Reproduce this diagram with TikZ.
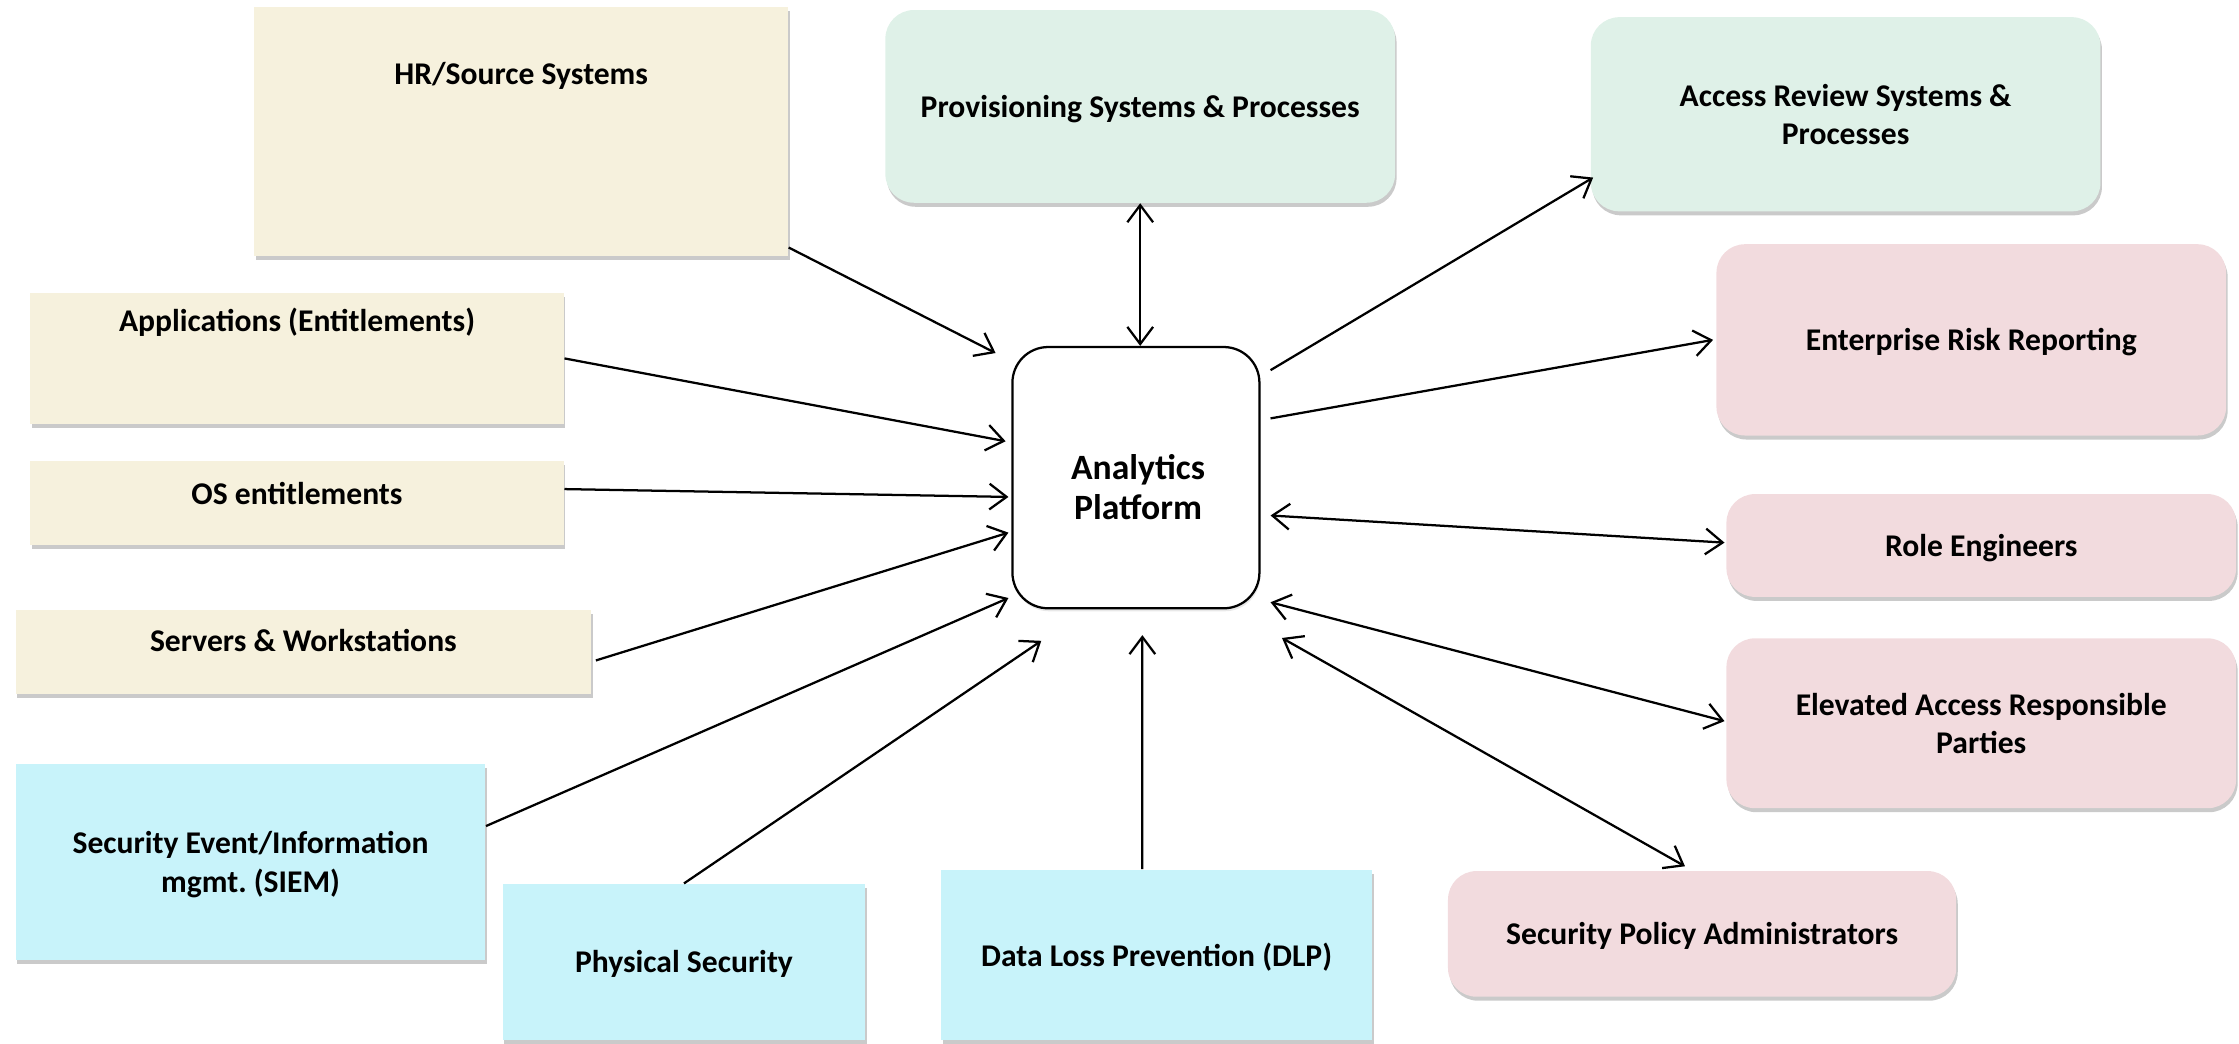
\documentclass[tikz,border=0pt]{standalone}
\usepackage{fontspec}
\setmainfont{Carlito}
\usepackage{tikz}
\usetikzlibrary{calc,positioning,shadows,arrows.meta}

\definecolor{beige}{RGB}{246,241,221}
\definecolor{mint}{RGB}{223,241,232}
\definecolor{rose}{RGB}{242,219,222}
\definecolor{aqua}{RGB}{200,243,250}

\begin{document}
\begin{tikzpicture}[x=0.02cm, y=-0.02cm,
	font=\bfseries\fontsize{12.6}{15.4}\selectfont,
	box/.style={inner sep=0pt, align=center, text depth=0pt,
		drop shadow={shadow xshift=0.6pt, shadow yshift=-1.6pt, opacity=0.35, fill=black!60}},
	srcbox/.style={box, fill=beige},
	evtbox/.style={box, fill=aqua},
	procbox/.style={box, fill=mint, rounded corners=0.4cm},
	userbox/.style={box, fill=rose, rounded corners=0.4cm},
	txt/.style={inner sep=0pt, align=center},
	link/.style={line width=0.9pt, -{Straight Barb[length=2.4mm, width=3.6mm]}},
	both/.style={link, {Straight Barb[length=2.4mm, width=3.6mm]}-{Straight Barb[length=2.4mm, width=3.6mm]}}]
	\useasboundingbox (0,0) rectangle (1568,731);
	% the platform in the middle
	\node[draw, line width=0.9pt, fill=white, rounded corners=0.5cm, minimum width=3.46cm,
		minimum height=3.66cm, inner sep=0pt,
		drop shadow={shadow xshift=0.4pt, shadow yshift=-1.2pt, opacity=0.15, fill=black!60}] (ap) at (795.5,334.5) {};
	\node[txt, text depth=0pt, font=\bfseries\fontsize{14.2}{16}\selectfont] (aptxt) at (797,341) {Analytics\\Platform};
	% data sources, left
	\node[srcbox, minimum width=7.48cm, minimum height=3.48cm] (hr) at (365,92) {};
	\node[txt] (hrtxt) at (365,53) {HR/Source Systems};
	\node[srcbox, minimum width=7.48cm, minimum height=1.84cm] (apps) at (208,251) {};
	\node[txt] (appstxt) at (208,226) {Applications (Entitlements)};
	\node[srcbox, minimum width=7.48cm, minimum height=1.18cm] (os) at (208,352.5) {};
	\node[txt] (ostxt) at (208,345.5) {OS entitlements};
	\node[srcbox, minimum width=8.06cm, minimum height=1.18cm] (srv) at (212.5,456.5) {};
	\node[txt] (srvtxt) at (212.5,448.5) {Servers \& Workstations};
	% event feeds, bottom
	\node[evtbox, minimum width=6.58cm, minimum height=2.74cm] (siem) at (175.5,603.5) {Security Event/Information\\mgmt.\ (SIEM)};
	\node[evtbox, minimum width=5.08cm, minimum height=2.18cm] (phys) at (479,673.5) {Physical Security};
	\node[evtbox, minimum width=6.04cm, minimum height=2.38cm] (dlp) at (810,668.5) {Data Loss Prevention (DLP)};
	% processes, top
	\node[procbox, minimum width=7.14cm, minimum height=2.7cm] (prov) at (798.5,74.5) {Provisioning Systems \& Processes};
	\node[procbox, minimum width=7.14cm, minimum height=2.72cm] (arev) at (1292.5,80) {Access Review Systems \&\\Processes};
	% consumers, right
	\node[userbox, minimum width=7.14cm, minimum height=2.68cm] (err) at (1380.5,238) {Enterprise Risk Reporting};
	\node[userbox, minimum width=7.14cm, minimum height=1.44cm] (role) at (1387.5,382) {Role Engineers};
	\node[userbox, minimum width=7.14cm, minimum height=2.38cm] (elev) at (1387.5,506.5) {Elevated Access Responsible\\Parties};
	\node[userbox, minimum width=7.12cm, minimum height=1.76cm] (spa) at (1192,654) {Security Policy Administrators};

	% inputs
	\draw[link] ($(hr.south east)+(0,-6)$) -- ($(ap.north west)+(-11,5)$);
	\draw[link] (apps.east) -- ($(ap.west)+(-4,-25.5)$);
	\draw[link] ($(os.east)+(0,-10)$) -- ($(ap.west)+(-2,13.5)$);
	\draw[link] ($(srv.east)+(3,6)$) -- ($(ap.west)+(-2,38.5)$);
	\draw[link] ($(siem.east)+(0,-25)$) -- ($(ap.south west)+(-2,-8)$);
	\draw[link] (phys.north) -- ($(ap.south west)+(21,22)$);
	\draw[link] ($(dlp.north)+(-10,0)$) -- ($(ap.south)+(4.5,18)$);
	% outputs
	\draw[both] (prov.south) -- (prov.south |- ap.north);
	\draw[link] ($(ap.north east)+(7,17)$) -- ($(arev.south west)+(2,-24)$);
	\draw[link] ($(ap.east)+(7,-41.5)$) -- ($(err.west)+(-2,0)$);
	\draw[both] ($(ap.east)+(7,26.5)$) -- ($(role.west)+(-1,-2)$);
	\draw[both] ($(ap.south east)+(7,-5)$) -- ($(elev.west)+(-1,-1.5)$);
	\draw[both] ($(ap.south east)+(15,20)$) -- ($(spa.north)+(-12,-3)$);
\end{tikzpicture}
\end{document}
